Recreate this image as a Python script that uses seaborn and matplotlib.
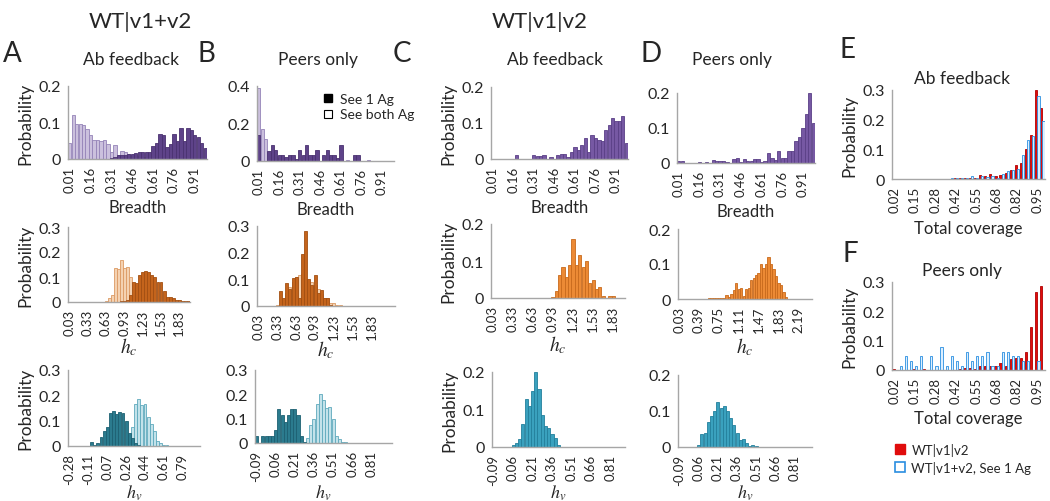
import matplotlib
matplotlib.use("Agg")
import matplotlib.pyplot as plt
from matplotlib.lines import Line2D
import seaborn as sns
import pandas as pd

sns.set_style("white")
plt.rcParams["font.family"] = ["Lato", "DejaVu Sans"]
plt.rcParams["mathtext.fontset"] = "stix"

W, H = 1050, 502

# --------------------------------------------------
# Data (probabilities per histogram bin)
# --------------------------------------------------

breadth_ticks = ["0.01", "0.16", "0.31", "0.46", "0.61", "0.76", "0.91"]
hc_ticks = ["0.03", "0.33", "0.63", "0.93", "1.23", "1.53", "1.83"]
hc_ticks_d = ["0.03", "0.39", "0.75", "1.11", "1.47", "1.83", "2.19"]
hv_ticks_a = ["-0.28", "-0.11", "0.07", "0.26", "0.44", "0.61", "0.79"]
hv_ticks = ["-0.09", "0.06", "0.21", "0.36", "0.51", "0.66", "0.81"]
cov_ticks = ["0.02", "0.15", "0.28", "0.42", "0.55", "0.68", "0.82", "0.95"]

# A: WT|v1+v2, Ab feedback
a1_one = [0, 0, 0, 0, 0, 0, 0, 0, 0, 0,
          0, 0, 0.003, 0.005, 0.01, 0.012, 0.012, 0.013, 0.015, 0.016,
          0.018, 0.02, 0.02, 0.02, 0.035, 0.045, 0.068, 0.066, 0.033, 0.04,
          0.068, 0.05, 0.086, 0.05, 0.086, 0.08, 0.065, 0.06, 0.045, 0.03]
a1_both = [0.045, 0.12, 0.096, 0.097, 0.094, 0.083, 0.065, 0.053, 0.053, 0.048,
           0.052, 0.04, 0.018, 0.037, 0.01, 0.023, 0.018, 0.015, 0.012, 0.01,
           0.008, 0.006, 0.005, 0.004, 0.003, 0.002, 0.001, 0, 0, 0,
           0, 0, 0, 0, 0, 0, 0, 0, 0, 0]
a2_one = [0, 0, 0, 0, 0, 0, 0, 0, 0, 0,
          0, 0, 0, 0, 0, 0, 0, 0.003, 0.005, 0.01,
          0.03, 0.08, 0.075, 0.11, 0.12, 0.125, 0.12, 0.11, 0.1, 0.08,
          0.08, 0.045, 0.02, 0.02, 0.015, 0.01, 0.01, 0.005, 0.005, 0.003]
a2_both = [0, 0, 0, 0, 0, 0, 0, 0, 0, 0,
           0, 0, 0.003, 0.015, 0.03, 0.135, 0.133, 0.17, 0.135, 0.14,
           0.1, 0.045, 0.02, 0.01, 0.003, 0, 0, 0, 0, 0,
           0, 0, 0, 0, 0, 0, 0, 0, 0, 0]
a3_one = [0, 0, 0, 0, 0, 0, 0, 0.015, 0.005, 0.01,
          0.035, 0.06, 0.075, 0.13, 0.14, 0.125, 0.135, 0.13, 0.1, 0.05,
          0.03, 0.01, 0.005, 0, 0, 0, 0, 0, 0, 0,
          0, 0, 0, 0, 0, 0, 0, 0, 0, 0, 0, 0]
a3_both = [0, 0, 0, 0, 0, 0, 0, 0, 0, 0,
           0, 0, 0, 0, 0, 0, 0, 0, 0, 0.02,
           0.075, 0.165, 0.185, 0.16, 0.165, 0.115, 0.085, 0.06, 0.02, 0.01,
           0.005, 0.005, 0, 0, 0, 0, 0, 0, 0, 0, 0, 0]

# B: WT|v1+v2, Peers only
b1_one = [0.14, 0, 0, 0.055, 0.085, 0.06, 0.03, 0.03, 0.02, 0.03,
          0.03, 0.01, 0.06, 0.03, 0.085, 0.03, 0.03, 0.06, 0, 0.03,
          0.06, 0.03, 0.03, 0.015, 0.085, 0, 0, 0, 0.03, 0.03,
          0, 0, 0, 0, 0, 0, 0, 0, 0, 0]
b1_both = [0.39, 0.17, 0.12, 0.05, 0.035, 0.025, 0.015, 0.01, 0.01, 0.008,
           0.006, 0.005, 0.004, 0.004, 0.003, 0.003, 0.002, 0.002, 0.002, 0.002,
           0.001, 0.001, 0.001, 0.001, 0.001, 0.001, 0.004, 0.001, 0, 0,
           0, 0, 0.004, 0, 0, 0, 0, 0, 0, 0]
b2_one = [0, 0, 0, 0, 0, 0, 0, 0.057, 0.03, 0.085,
          0.065, 0.105, 0.11, 0.03, 0.195, 0.28, 0.1, 0.08, 0.115, 0.05,
          0.06, 0.03, 0.03, 0.005, 0, 0, 0, 0, 0, 0,
          0, 0, 0, 0, 0, 0, 0, 0, 0, 0, 0, 0, 0, 0]
b2_both = [0, 0, 0, 0, 0, 0, 0.003, 0.005, 0.02, 0.05,
           0.07, 0.09, 0.11, 0.115, 0.12, 0.1, 0.09, 0.09, 0.08, 0.065,
           0.045, 0.03, 0.03, 0.01, 0.01, 0.005, 0.003, 0, 0, 0,
           0, 0, 0, 0, 0, 0, 0, 0, 0, 0, 0, 0, 0, 0]
b3_one = [0.03, 0, 0.03, 0.03, 0.03, 0.03, 0.055, 0.14, 0.115, 0.085,
          0.115, 0.14, 0.14, 0.115, 0.03, 0.005, 0, 0, 0, 0,
          0, 0, 0, 0, 0, 0, 0, 0, 0, 0,
          0, 0, 0, 0, 0, 0, 0, 0, 0, 0, 0, 0, 0]
b3_both = [0, 0, 0, 0, 0, 0, 0, 0, 0, 0,
           0, 0, 0, 0, 0, 0.005, 0.02, 0.075, 0.1, 0.16,
           0.2, 0.175, 0.145, 0.15, 0.1, 0.03, 0.015, 0.005, 0.005, 0,
           0, 0, 0, 0, 0, 0, 0, 0, 0, 0, 0, 0, 0]

# C: WT|v1|v2, Ab feedback
c1 = [0, 0, 0, 0, 0, 0, 0, 0.01, 0, 0,
      0, 0, 0.01, 0.007, 0.007, 0.01, 0, 0.005, 0, 0.01,
      0.015, 0.015, 0.005, 0.02, 0.033, 0.025, 0.04, 0.057, 0.02, 0.066,
      0.057, 0.053, 0.05, 0.08, 0.095, 0.115, 0.105, 0.105, 0.12, 0.045]
c2 = [0, 0, 0, 0, 0, 0, 0, 0, 0, 0,
      0, 0, 0, 0, 0, 0, 0, 0, 0.003, 0.02,
      0.062, 0.085, 0.057, 0.09, 0.16, 0.09, 0.115, 0.085, 0.1, 0.04,
      0.048, 0.025, 0.03, 0.005, 0, 0.005, 0.005, 0, 0, 0]
c3 = [0, 0, 0, 0, 0, 0, 0.005, 0.01, 0.022, 0.062,
      0.128, 0.11, 0.15, 0.2, 0.155, 0.085, 0.055, 0.052, 0.035, 0.025,
      0.005, 0, 0, 0, 0, 0, 0, 0, 0, 0,
      0, 0, 0, 0, 0, 0, 0, 0, 0, 0, 0]

# D: WT|v1|v2, Peers only
d1 = [0.005, 0.005, 0, 0, 0, 0, 0.004, 0, 0.003, 0,
      0.01, 0.007, 0.007, 0.007, 0.004, 0, 0.012, 0.013, 0.004, 0.012,
      0.007, 0.007, 0.012, 0.012, 0.004, 0.006, 0.03, 0.015, 0.01, 0.033,
      0.015, 0.015, 0.033, 0.035, 0.062, 0.075, 0.1, 0.14, 0.2, 0.115]
d2 = [0, 0, 0, 0, 0, 0, 0, 0, 0, 0,
      0, 0, 0.003, 0.003, 0.003, 0.003, 0.003, 0.003, 0.003, 0.012,
      0.005, 0.015, 0.025, 0.045, 0.03, 0.032, 0.01, 0.03, 0.032, 0.055,
      0.06, 0.07, 0.075, 0.1, 0.09, 0.1, 0.12, 0.1, 0.085, 0.065,
      0.045, 0.04, 0.02, 0.005, 0, 0, 0, 0, 0, 0,
      0, 0, 0, 0]
d3 = [0, 0, 0, 0, 0, 0, 0.005, 0.035, 0.04, 0.07,
      0.085, 0.1, 0.125, 0.107, 0.113, 0.1, 0.08, 0.06, 0.04, 0.02,
      0.022, 0.01, 0.002, 0.005, 0.002, 0, 0, 0, 0, 0,
      0, 0, 0, 0, 0, 0, 0, 0, 0, 0, 0, 0]

# E / F: total coverage
e_red = [0, 0, 0, 0, 0, 0, 0, 0, 0, 0,
         0, 0, 0.004, 0.005, 0.005, 0.002, 0.004, 0.012, 0.01, 0.017,
         0.01, 0.015, 0.02, 0.032, 0.048, 0.055, 0.1, 0.15, 0.3, 0.24]
e_blue = [0, 0, 0, 0, 0, 0, 0, 0, 0, 0,
          0, 0.002, 0.005, 0.005, 0.005, 0.01, 0.005, 0.01, 0.008, 0.01,
          0.005, 0.018, 0.027, 0.03, 0.035, 0.08, 0.13, 0.145, 0.28, 0.195]
f_red = [0.003, 0, 0, 0, 0.003, 0, 0.003, 0, 0, 0,
         0, 0, 0, 0.005, 0.008, 0.008, 0.003, 0.012, 0.015, 0.015,
         0.012, 0.025, 0.015, 0.038, 0.04, 0.042, 0.063, 0.145, 0.265, 0.285]
f_blue = [0, 0.015, 0.047, 0.03, 0.015, 0.047, 0, 0.047, 0.015, 0.078,
          0.015, 0.047, 0.03, 0.015, 0.063, 0.03, 0.047, 0.047, 0.063, 0.015,
          0.015, 0.063, 0.063, 0.047, 0.047, 0.03, 0.03, 0, 0.03, 0]

# colours (face, edge)
PURPLE = ("#5e4389", "#4a3270")
PURPLE_L = ("#cbc0dd", "#9583b8")
PURPLE_C = ("#7658a3", "#5a3f86")
ORANGE = ("#c4641c", "#a24f12")
ORANGE_L = ("#f4d2b2", "#dc9a63")
ORANGE_C = ("#ec8a35", "#c86a1c")
TEAL = ("#2b7b8e", "#1d6072")
TEAL_L = ("#c3e2ea", "#5ea9bc")
TEAL_C = ("#3aa1be", "#23809c")
RED = ("#e00c0c", "#b00000")
BLUE = ("#dcefff", "#2a8ee0")
GRID = "#a6a6a6"


def box(left, top, right, bottom):
    return [left / W, 1 - bottom / H, (right - left) / W, (bottom - top) / H]


def hist(ax, series, styles, dodge=False, width=0.95):
    names = [f"s{i}" for i in range(len(series))]
    frames = [pd.DataFrame({"bin": range(len(v)), "p": v, "grp": n})
              for v, n in zip(series, names)]
    df = pd.concat(frames, ignore_index=True)
    sns.barplot(
        data=df, x="bin", y="p", hue="grp", hue_order=names,
        dodge=dodge, width=width, saturation=1, linewidth=0.6,
        palette={n: s[0] for n, s in zip(names, styles)},
        legend=False, ax=ax
    )
    for cont, (fc, ec) in zip(ax.containers, styles):
        for bar in cont:
            bar.set_facecolor(fc)
            bar.set_edgecolor(ec)
    return len(series[0])


def style(ax, n, ticks, step, ymax, yticks, xlabel, label_y,
          ylabel=True, xsize=12):
    ax.set_xlim(-0.5, n - 0.5)
    ax.set_ylim(0, ymax)
    ax.set_xticks(range(0, step * len(ticks), step))
    ax.set_xticklabels(ticks, rotation=90, fontsize=9.5)
    ax.set_xticks(range(n), minor=True)
    ax.tick_params(axis="x", which="both", length=3, color=GRID, width=0.8, pad=2)
    ax.set_yticks(yticks)
    ax.set_yticklabels(["0" if t == 0 else f"{t:g}" for t in yticks], fontsize=11.5)
    ax.tick_params(axis="y", length=3, color=GRID, width=0.8, pad=2)
    for s in ["top", "right"]:
        ax.spines[s].set_visible(False)
    for s in ["left", "bottom"]:
        ax.spines[s].set_color(GRID)
        ax.spines[s].set_linewidth(1)
    ax.set_xlabel(xlabel, fontsize=xsize, va="center")
    # place the x label centre at a given pixel row
    pos = ax.get_position()
    bottom_px = (1 - pos.y0) * H
    ax.xaxis.set_label_coords(0.5, -(label_y - bottom_px) / (pos.height * H))
    ax.set_ylabel("Probability" if ylabel else "", fontsize=12.5, labelpad=4)


fig = plt.figure(figsize=(W / 100, H / 100), dpi=100)

# column A
ax = fig.add_axes(box(68, 87, 207, 160))
n = hist(ax, [a1_both, a1_one], [PURPLE_L, PURPLE])
style(ax, n, breadth_ticks, 6, 0.2, [0, 0.1, 0.2], "Breadth", 208)
ax = fig.add_axes(box(68, 228, 190, 303))
n = hist(ax, [a2_both, a2_one], [ORANGE_L, ORANGE])
style(ax, n, hc_ticks, 6, 0.3, [0, 0.1, 0.2, 0.3], r"$h_c$", 347, xsize=14)
ax = fig.add_axes(box(68, 371, 200, 447))
n = hist(ax, [a3_both, a3_one], [TEAL_L, TEAL])
style(ax, n, hv_ticks_a, 6, 0.3, [0, 0.1, 0.2, 0.3], r"$h_v$", 493, xsize=13)

# column B
ax = fig.add_axes(box(257, 87, 394, 162))
n = hist(ax, [b1_both, b1_one], [PURPLE_L, PURPLE])
style(ax, n, breadth_ticks, 6, 0.4, [0, 0.2, 0.4], "Breadth", 210, ylabel=False)
handles = [
    Line2D([], [], ls="none", marker="s", ms=6, mfc="black", mec="black"),
    Line2D([], [], ls="none", marker="s", ms=6, mfc="white", mec="black", mew=0.8),
]
ax.legend(handles, ["See 1 Ag", "See both Ag"], loc="upper right",
          bbox_to_anchor=(1.2, 1.0), frameon=False, fontsize=10,
          handletextpad=0.4, labelspacing=0.25, borderaxespad=0.1,
          handlelength=1.0)
ax = fig.add_axes(box(257, 227, 395, 307))
n = hist(ax, [b2_both, b2_one], [ORANGE_L, ORANGE])
style(ax, n, hc_ticks, 6, 0.3, [0, 0.1, 0.2, 0.3], r"$h_c$", 350,
      ylabel=False, xsize=14)
ax = fig.add_axes(box(255, 371, 392, 444))
n = hist(ax, [b3_both, b3_one], [TEAL_L, TEAL])
style(ax, n, hv_ticks, 6, 0.3, [0, 0.1, 0.2, 0.3], r"$h_v$", 493,
      ylabel=False, xsize=13)

# column C
ax = fig.add_axes(box(491, 88, 628, 160))
n = hist(ax, [c1], [PURPLE_C])
style(ax, n, breadth_ticks, 6, 0.2, [0, 0.1, 0.2], "Breadth", 208)
ax = fig.add_axes(box(491, 225, 625, 299))
n = hist(ax, [c2], [ORANGE_C])
style(ax, n, hc_ticks, 6, 0.2, [0, 0.1, 0.2], r"$h_c$", 345, xsize=14)
ax = fig.add_axes(box(492, 373, 625, 448))
n = hist(ax, [c3], [TEAL_C])
style(ax, n, hv_ticks, 6, 0.2, [0, 0.1, 0.2], r"$h_v$", 493, xsize=13)

# column D
ax = fig.add_axes(box(677, 94, 815, 164))
n = hist(ax, [d1], [PURPLE_C])
style(ax, n, breadth_ticks, 6, 0.2, [0, 0.1, 0.2], "Breadth", 212, ylabel=False)
ax = fig.add_axes(box(678, 230, 812, 300))
n = hist(ax, [d2], [ORANGE_C])
style(ax, n, hc_ticks_d, 8, 0.2, [0, 0.1, 0.2], r"$h_c$", 347,
      ylabel=False, xsize=14)
ax = fig.add_axes(box(678, 376, 812, 448))
n = hist(ax, [d3], [TEAL_C])
style(ax, n, hv_ticks, 6, 0.2, [0, 0.1, 0.2], r"$h_v$", 493,
      ylabel=False, xsize=13)

# column E / F
ax = fig.add_axes(box(892, 91, 1045, 180))
n = hist(ax, [e_red, e_blue], [RED, BLUE], dodge=True, width=0.85)
style(ax, n, cov_ticks, 4, 0.3, [0, 0.1, 0.2, 0.3], "Total coverage", 229)
ax = fig.add_axes(box(892, 283, 1045, 371))
n = hist(ax, [f_red, f_blue], [RED, BLUE], dodge=True, width=0.85)
style(ax, n, cov_ticks, 4, 0.3, [0, 0.1, 0.2, 0.3], "Total coverage", 419)
handles = [
    Line2D([], [], ls="none", marker="s", ms=7, mfc=RED[0], mec=RED[0]),
    Line2D([], [], ls="none", marker="s", ms=7, mfc="white", mec=BLUE[1], mew=1.2),
]
fig.legend(handles, ["WT|v1|v2", "WT|v1+v2, See 1 Ag"], loc="upper left",
           bbox_to_anchor=(893 / W, 1 - 444 / H), frameon=False, fontsize=9.5,
           handletextpad=0.4, labelspacing=0.35, borderpad=0,
           handlelength=1.0, borderaxespad=0)


# titles and panel letters
def label(x, y, s, size, **kw):
    fig.text(x / W, 1 - y / H, s, fontsize=size, ha="center", va="center", **kw)


label(140, 22, "WT|v1+v2", 16)
label(540, 22, "WT|v1|v2", 16)
for x, y, s in [(12, 54, "A"), (206, 54, "B"), (402, 54, "C"), (651, 54, "D"),
                (848, 50, "E"), (850, 254, "F")]:
    label(x, y, s, 20)
for x, y, s in [(131, 60, "Ab feedback"), (318, 60, "Peers only"),
                (555, 60, "Ab feedback"), (732, 60, "Peers only"),
                (962, 79, "Ab feedback"), (962, 271, "Peers only")]:
    label(x, y, s, 12.5)

fig.savefig("out.png", dpi=100)
